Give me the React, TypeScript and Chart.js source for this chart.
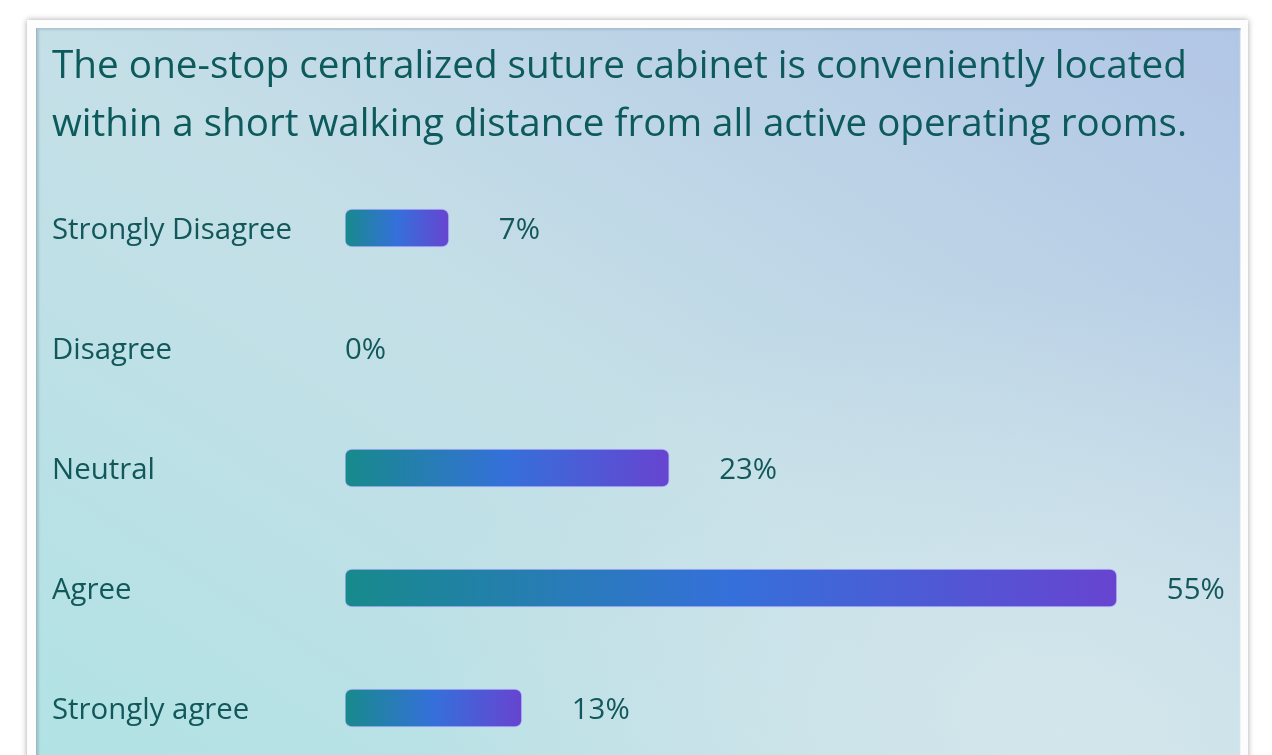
import React, { useEffect, useRef } from "react";
import { Chart, registerables } from "chart.js";

Chart.register(...registerables);

const titleLines = [
  "The one-stop centralized suture cabinet is conveniently located",
  "within a short walking distance from all active operating rooms.",
];
const categories = ["Strongly Disagree", "Disagree", "Neutral", "Agree", "Strongly agree"];
const percentValues = [7.4, 0, 23.1, 55, 12.6];
const axisMax = 60;

const FONT = "'Open Sans', 'Noto Sans', sans-serif";
const TEXT_COLOR = "#12585a";

const valueLabelPlugin = {
  id: "valueLabels",
  afterDatasetsDraw(chart: any) {
    const ctx = chart.ctx;
    const meta = chart.getDatasetMeta(0);
    ctx.save();
    ctx.font = `500 29.4px ${FONT}`;
    ctx.fillStyle = TEXT_COLOR;
    ctx.textAlign = "left";
    ctx.textBaseline = "middle";
    meta.data.forEach((el: any, i: number) => {
      const v = percentValues[i];
      const x = v > 0 ? el.x + 50 : el.base;
      ctx.fillText(`${Math.round(v)}%`, x, el.y + 3);
    });
    ctx.restore();
  },
};

export default function App() {
  const ref = useRef<HTMLCanvasElement>(null);
  useEffect(() => {
    if (!ref.current) return;
    const chart = new Chart(ref.current, {
      type: "bar",
      data: {
        labels: categories,
        datasets: [
          {
            data: percentValues,
            barThickness: 38,
            borderRadius: 7,
            borderSkipped: false,
            borderWidth: 1,
            borderColor: "rgba(170,160,255,0.7)",
            backgroundColor: (c: any) => {
              const chart = c.chart;
              const xs = chart.scales?.x;
              if (!xs || !chart.chartArea || c.type !== "data") return "#3a70d8";
              const v = percentValues[c.dataIndex] || 0;
              const x0 = xs.getPixelForValue(0);
              const x1 = xs.getPixelForValue(Math.max(v, 0.01));
              const g = chart.ctx.createLinearGradient(x0, 0, x1, 0);
              g.addColorStop(0, "#178a8b");
              g.addColorStop(0.5, "#3570da");
              g.addColorStop(1, "#6744d0");
              return g;
            },
          },
        ],
      },
      options: {
        indexAxis: "y",
        responsive: false,
        animation: false,
        layout: { padding: { left: 52, right: 85, top: 0, bottom: 32 } },
        plugins: {
          legend: { display: false },
          tooltip: { enabled: false },
          title: {
            display: true,
            text: titleLines,
            align: "start",
            color: "#0d5a5c",
            font: { family: FONT, size: 39, weight: "500", lineHeight: 58 / 39 },
            padding: { top: 38, bottom: 14 },
          },
        },
        scales: {
          x: {
            display: false,
            min: 0,
            max: axisMax,
            grid: { display: false },
          },
          y: {
            grid: { display: false },
            border: { display: false },
            afterFit: (s: any) => {
              s.width = 293;
            },
            ticks: {
              crossAlign: "far",
              padding: 0,
              labelOffset: 3,
              color: TEXT_COLOR,
              font: { family: FONT, size: 29.4, weight: "500" },
            },
          },
        },
      },
      plugins: [valueLabelPlugin],
    });
    return () => chart.destroy();
  }, []);

  return (
    <div style={{ position: "fixed", left: 0, top: 0, width: 1272, height: 755, overflow: "hidden", background: "#ffffff" }}>
      <div
        style={{
          position: "absolute",
          left: 27,
          top: 20,
          width: 1221,
          height: 780,
          background: "#fdfdfd",
          boxShadow: "0 0 6px rgba(0,0,0,0.35)",
        }}
      />
      <div
        style={{
          position: "absolute",
          left: 36,
          top: 28,
          width: 1204,
          height: 780,
          background:
            "radial-gradient(ellipse at 85% 90%, rgba(212,230,236,0.95) 0%, rgba(212,230,236,0) 45%), linear-gradient(to top right, #b0e3e4 0%, #c5dfe7 50%, #b2c6e6 100%)",
          boxShadow: "inset 2px 2px 2px rgba(120,150,160,0.35), inset -1px 0 1px rgba(255,255,255,0.7)",
          borderLeft: "1px solid #9bb9bf",
        }}
      />
      <canvas ref={ref} width={1272} height={800} style={{ position: "absolute", left: 0, top: 0, width: 1272, height: 800 }} />
    </div>
  );
}
